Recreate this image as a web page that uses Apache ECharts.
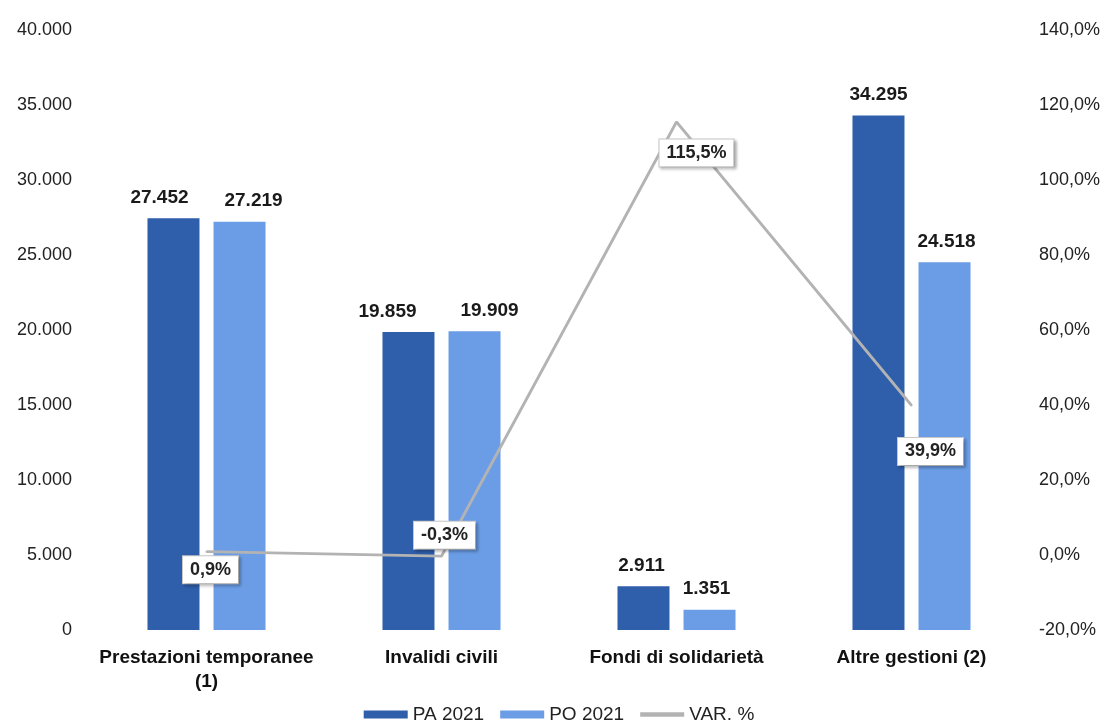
<!DOCTYPE html>
<html>
<head>
<meta charset="utf-8">
<script src="https://cdn.jsdelivr.net/npm/echarts@6/dist/echarts.min.js"></script>
<style>
html,body{margin:0;padding:0;background:#fff;}
#chart{width:1118px;height:726px;}
</style>
</head>
<body>
<div id="chart"></div>
<script>
const categories = ['Prestazioni temporanee\n(1)', 'Invalidi civili', 'Fondi di solidarietà', 'Altre gestioni (2)'];
const pa2021 = [27452, 19859, 2911, 34295];
const po2021 = [27219, 19909, 1351, 24518];
const varPct = [0.9, -0.3, 115.5, 39.9];
const leftTicks = [0, 5000, 10000, 15000, 20000, 25000, 30000, 35000, 40000];
const rightTicks = [-20, 0, 20, 40, 60, 80, 100, 120, 140];

const fmtThousands = v => String(v).replace(/\B(?=(\d{3})+(?!\d))/g, '.');
const fmtPct = v => v.toFixed(1).replace('.', ',') + '%';

const labelOffsets = [[4, 18], [3, -21], [20, 31], [19, 46]];
const paLabelShift = [[-14, 0], [-21, 0], [-2, 0], [0, 0]];
const poLabelShift = [[14, 0], [15, 0], [-3, 0], [2, 0]];

const chart = echarts.init(document.getElementById('chart'));
const font = 'Liberation Sans, Arial, sans-serif';
const barLabel = { show: true, position: 'top', distance: 11, fontSize: 19, fontWeight: 'bold', color: '#1a1a1a', formatter: p => fmtThousands(p.value) };
chart.setOption({
  animation: false,
  textStyle: { fontFamily: font },
  legend: {
    bottom: -3,
    itemGap: 16,
    itemWidth: 44,
    itemHeight: 8,
    textStyle: { fontSize: 19, color: '#222', fontFamily: font },
    data: [
      { name: 'PA 2021', icon: 'rect' },
      { name: 'PO 2021', icon: 'rect' },
      { name: 'VAR. %', icon: 'path://M0,0 L10,0 L10,1 L0,1 Z', itemStyle: { color: '#b3b3b3', opacity: 1 } }
    ]
  },
  grid: { left: 89, right: 89, top: 30, bottom: 96 },
  xAxis: {
    type: 'category',
    data: categories,
    axisLine: { show: false },
    axisTick: { show: false },
    axisLabel: { fontSize: 19, fontWeight: 'bold', color: '#111', margin: 16, lineHeight: 24, interval: 0 }
  },
  yAxis: [
    {
      type: 'value', min: leftTicks[0], max: leftTicks[leftTicks.length - 1], interval: 5000,
      position: 'left',
      splitLine: { show: false },
      axisLabel: { fontSize: 18, color: '#222', margin: 17, formatter: v => fmtThousands(v) },
      axisLine: { show: false }, axisTick: { show: false }
    },
    {
      type: 'value', min: rightTicks[0], max: rightTicks[rightTicks.length - 1], interval: 20,
      position: 'right',
      splitLine: { show: false },
      axisLabel: { fontSize: 18, color: '#222', margin: 10, formatter: v => fmtPct(v) },
      axisLine: { show: false }, axisTick: { show: false }
    }
  ],
  series: [
    {
      name: 'PA 2021', type: 'bar', yAxisIndex: 0,
      data: pa2021.map((v, i) => ({ value: v, label: { offset: paLabelShift[i] } })),
      barWidth: 52, barGap: '27%',
      itemStyle: { color: '#2f5eab' },
      label: barLabel
    },
    {
      name: 'PO 2021', type: 'bar', yAxisIndex: 0,
      data: po2021.map((v, i) => ({ value: v, label: { offset: poLabelShift[i] } })),
      barWidth: 52,
      itemStyle: { color: '#6b9de6' },
      label: barLabel
    },
    {
      name: 'VAR. %', type: 'line', yAxisIndex: 1,
      data: varPct.map((v, i) => ({
        value: v,
        label: { offset: labelOffsets[i] }
      })),
      showSymbol: true, symbol: 'circle', symbolSize: 2,
      lineStyle: { color: '#b3b3b3', width: 3 },
      itemStyle: { color: '#b3b3b3' },
      z: 5,
      label: {
        show: true, position: 'inside',
        formatter: p => fmtPct(p.value),
        fontSize: 18, fontWeight: 'bold', color: '#222',
        backgroundColor: '#fff', borderColor: '#c8c8c8', borderWidth: 1,
        padding: [5, 7, 4, 7],
        shadowColor: 'rgba(0,0,0,0.25)', shadowBlur: 3, shadowOffsetX: 2, shadowOffsetY: 2
      }
    }
  ]
});
</script>
</body>
</html>
